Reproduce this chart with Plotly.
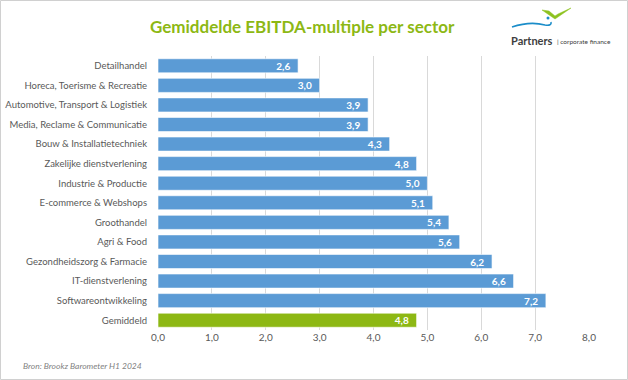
import plotly.graph_objects as go

categories = [
    "Detailhandel",
    "Horeca, Toerisme & Recreatie",
    "Automotive, Transport & Logistiek",
    "Media, Reclame & Communicatie",
    "Bouw & Installatietechniek",
    "Zakelijke dienstverlening",
    "Industrie & Productie",
    "E-commerce & Webshops",
    "Groothandel",
    "Agri & Food",
    "Gezondheidszorg & Farmacie",
    "IT-dienstverlening",
    "Softwareontwikkeling",
    "Gemiddeld",
]
values = [2.6, 3.0, 3.9, 3.9, 4.3, 4.8, 5.0, 5.1, 5.4, 5.6, 6.2, 6.6, 7.2, 4.8]
tick_vals = [0, 1, 2, 3, 4, 5, 6, 7, 8]

BLUE = "#5B9BD5"
GREEN = "#8DB814"
colors = [GREEN if c == "Gemiddeld" else BLUE for c in categories]

W, H = 628, 380
ML, MR, MT, MB = 158, 39, 56, 50
pw = W - ML - MR
ph = H - MT - MB

fig = go.Figure(
    go.Bar(
        x=values,
        y=categories,
        orientation="h",
        marker=dict(color=colors, line=dict(color="rgba(255,255,255,0.6)", width=1)),
        width=0.72,
        texttemplate="%{x:.1f}\u00a0\u00a0",
        textposition="inside",
        insidetextanchor="end",
        constraintext="none",
        textfont=dict(color="white", size=10, family="Lato", weight="bold"),
        cliponaxis=False,
        hoverinfo="skip",
    )
)

def px(xp):
    return (xp - ML) / pw

def py(yp):
    return (H - MB - yp) / ph

fig.update_layout(
    width=W,
    height=H,
    margin=dict(l=ML, r=MR, t=MT, b=MB, autoexpand=False),
    paper_bgcolor="white",
    plot_bgcolor="white",
    separators=", ",
    showlegend=False,
    font=dict(family="Lato", color="#595959", size=10),
    xaxis=dict(
        range=[0, 8],
        tickvals=tick_vals,
        tickformat=".1f",
        showgrid=True,
        gridcolor="#D9D9D9",
        gridwidth=1,
        zeroline=False,
        showline=False,
        ticks="",
        automargin=False,
        tickfont=dict(size=10, color="#595959", family="Lato"),
        fixedrange=True,
    ),
    yaxis=dict(
        autorange="reversed",
        showgrid=False,
        zeroline=False,
        showline=False,
        ticks="",
        automargin=False,
        ticklabelstandoff=10,
        tickfont=dict(size=9.5, color="#595959", family="Lato"),
        fixedrange=True,
    ),
    annotations=[
        dict(
            text="<b>Gemiddelde EBITDA-multiple per sector</b>",
            xref="paper", yref="paper",
            x=px(302), y=py(27),
            xanchor="center", yanchor="middle",
            showarrow=False,
            font=dict(family="Lato", size=17, color="#8DB814"),
        ),
        dict(
            text="<i>Bron: Brookz Barometer H1 2024</i>",
            xref="paper", yref="paper",
            x=px(21), y=py(366),
            xanchor="left", yanchor="middle",
            showarrow=False,
            font=dict(family="Lato", size=8.5, color="#7F7F7F"),
        ),
        dict(
            text="<b>Partners</b>",
            xref="paper", yref="paper",
            x=px(509), y=py(40),
            xanchor="left", yanchor="middle",
            showarrow=False,
            font=dict(family="Lato", size=11, color="#404040"),
        ),
        dict(
            text="| corporate finance",
            xref="paper", yref="paper",
            x=px(555), y=py(41),
            xanchor="left", yanchor="middle",
            showarrow=False,
            font=dict(family="Lato", size=6.5, color="#404040"),
        ),
    ],
    shapes=[
        # outer border
        dict(type="rect", xref="paper", yref="paper",
             x0=px(0.5), x1=px(W - 0.5), y0=py(H - 0.5), y1=py(0.5),
             line=dict(color="#D0D0D0", width=1), layer="below"),
        # logo blue swoosh
        dict(type="path", xref="paper", yref="paper",
             path=f"M {px(512)},{py(27)} Q {px(530)},{py(21)} {px(545)},{py(25)} Q {px(552)},{py(26)} {px(551)},{py(22)}",
             line=dict(color="#1B8DC9", width=1.6)),
        # logo blue dot
        dict(type="circle", xref="paper", yref="paper",
             x0=px(546.5), x1=px(549.5), y0=py(19.5), y1=py(16.5),
             fillcolor="#1B8DC9", line=dict(width=0)),
        # logo green V
        dict(type="path", xref="paper", yref="paper",
             path=(f"M {px(542)},{py(10)} L {px(555)},{py(19)} L {px(571)},{py(8)} "
                   f"L {px(558)},{py(14)} L {px(555)},{py(16)} L {px(549)},{py(11)} Z"),
             fillcolor="#8DC21F", line=dict(color="#8DC21F", width=0.5)),
    ],
)

fig.write_html(
    "out.html",
    config={"displayModeBar": False, "staticPlot": True},
    post_script="document.body.style.margin='0';",
)
